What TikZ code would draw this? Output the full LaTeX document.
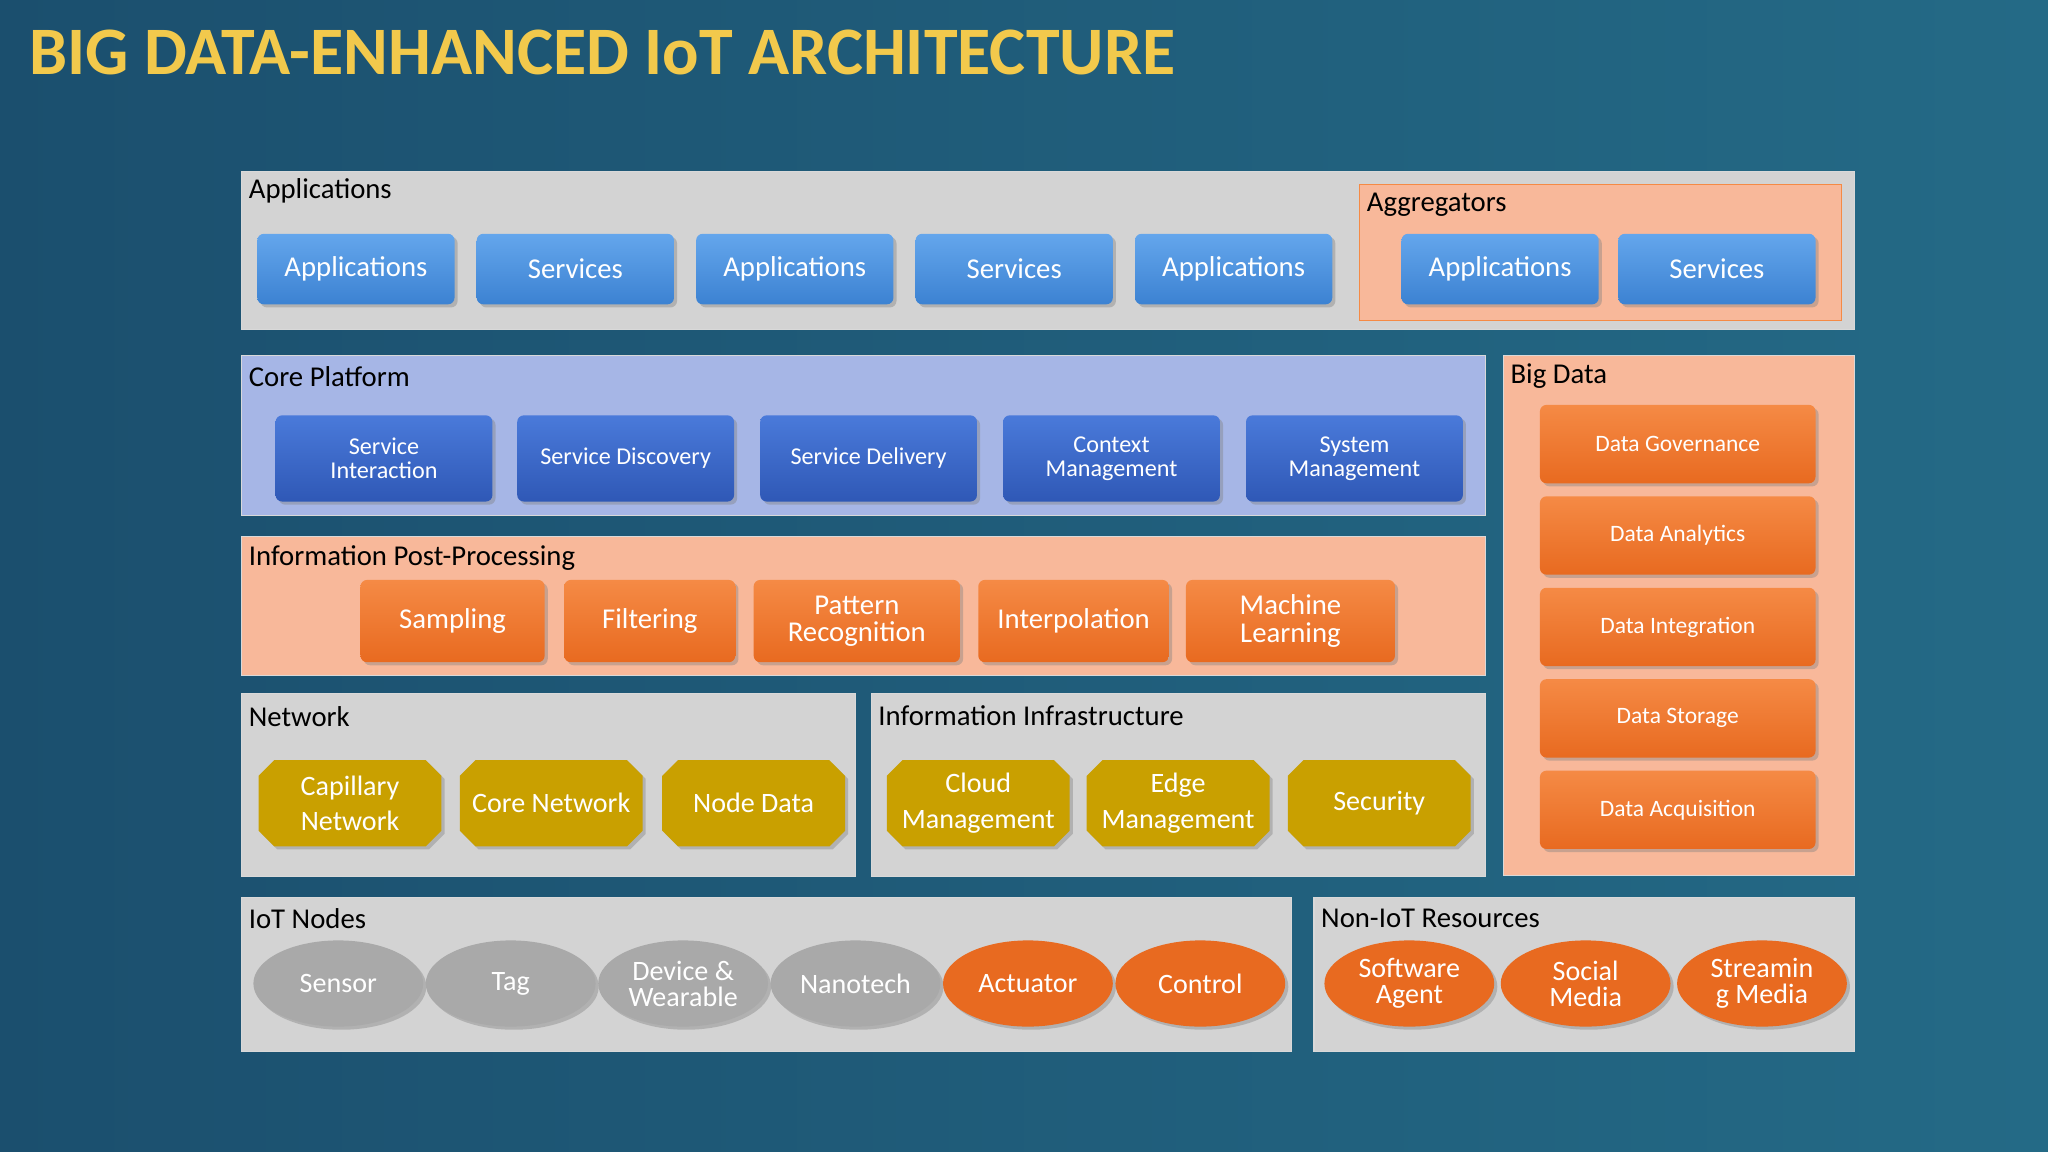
\documentclass[tikz,border=0pt]{standalone}
\usepackage{fontspec}
\setmainfont{Carlito}
\usetikzlibrary{shapes.misc,shapes.geometric,shadows}
\definecolor{bgA}{HTML}{1B4F6E}
\definecolor{bgB}{HTML}{246A86}
\definecolor{ttl}{HTML}{F2C94C}
\definecolor{pgray}{HTML}{D3D3D3}
\definecolor{ppeach}{HTML}{F8B89A}
\definecolor{pblue}{HTML}{A6B6E6}
\definecolor{btop}{HTML}{64A6EC}
\definecolor{bbot}{HTML}{3C82D2}
\definecolor{dtop}{HTML}{4A7ADA}
\definecolor{dbot}{HTML}{2F58B6}
\definecolor{otop}{HTML}{F58A45}
\definecolor{obot}{HTML}{E86A20}
\definecolor{gold}{HTML}{C9A000}
\definecolor{ngray}{HTML}{A9A9A9}
\begin{document}
\begin{tikzpicture}[x=1pt,y=-1pt,
 panel/.style={draw=white!70!gray,line width=0.8pt},
 ptitle/.style={anchor=west,font=\fontsize{22}{24}\selectfont,text=black},
 bbtn/.style={rounded corners=5pt,top color=btop,bottom color=bbot,draw=none,text=white,drop shadow={opacity=0.4},font=\fontsize{22}{24}\selectfont,align=center},
 dbtn/.style={rounded corners=5pt,top color=dtop,bottom color=dbot,draw=none,text=white,drop shadow={opacity=0.4},font=\fontsize{18.5}{18.5}\selectfont,align=center},
 obtn/.style={rounded corners=5pt,top color=otop,bottom color=obot,draw=none,text=white,drop shadow={opacity=0.4},font=\fontsize{22}{21}\selectfont,align=center},
 bdbtn/.style={rounded corners=5pt,top color=otop,bottom color=obot,draw=none,text=white,drop shadow={opacity=0.4},font=\fontsize{18}{18}\selectfont,align=center},
 gbtn/.style={chamfered rectangle,chamfered rectangle corners={north west,north east,south west,south east},chamfered rectangle sep=6pt,fill=gold,draw=none,text=white,drop shadow={opacity=0.4},font=\fontsize{21.5}{27}\selectfont,align=center,inner sep=0pt},
 nel/.style={ellipse,minimum width=130pt,minimum height=66pt,inner sep=0pt,draw=none,text=white,drop shadow={opacity=0.4},font=\fontsize{21.5}{20}\selectfont,align=center}]
\useasboundingbox (0,0) rectangle (1568,882);
\shade[left color=bgA,right color=bgB] (0,0) rectangle (1568,882);
\node[anchor=west,text=ttl,font=\fontsize{52}{54}\selectfont\bfseries] (title) at (19,40) {BIG DATA-ENHANCED IoT ARCHITECTURE};
% Applications
\draw[panel,fill=pgray] (185,131) rectangle (1420,252);
\node[ptitle] (tapp) at (187,146) {Applications};
\draw[draw=otop,fill=ppeach] (1041,141) rectangle (1410,245);
\node[ptitle] (tagg) at (1043,157) {Aggregators};
\foreach \n/\x/\t in {a1/197/Applications,a2/365/Services,a3/533/Applications,a4/701/Services,a5/869/Applications,a6/1073/Applications,a7/1239/Services}
  \node[bbtn,minimum width=151pt,minimum height=54pt] (\n) at (\x+75.5,206) {\t};
% Core platform
\draw[panel,fill=pblue] (185,272) rectangle (1137,395);
\node[ptitle] (tcore) at (187,288) {Core Platform};
\foreach \n/\x/\t in {c1/211/{Service\\Interaction},c2/396/{Service Discovery},c3/582/{Service Delivery},c4/768/{Context\\Management},c5/954/{System\\Management}}
  \node[dbtn,minimum width=166pt,minimum height=66pt] (\n) at (\x+83,351) {\t};
% Post-processing
\draw[panel,fill=ppeach] (185,411) rectangle (1137,517);
\node[ptitle] (tpost) at (187,427) {Information Post-Processing};
\node[obtn,minimum width=141pt,minimum height=63pt] (p1) at (346.5,475.5) {Sampling};
\node[obtn,minimum width=131pt,minimum height=63pt] (p2) at (497.5,475.5) {Filtering};
\node[obtn,minimum width=158pt,minimum height=63pt] (p3) at (656,475.5) {Pattern\\Recognition};
\node[obtn,minimum width=146pt,minimum height=63pt] (p4) at (822,475.5) {Interpolation};
\node[obtn,minimum width=160pt,minimum height=63pt] (p5) at (988,475.5) {Machine\\Learning};
% Big data
\draw[panel,fill=ppeach] (1151,272) rectangle (1420,670);
\node[ptitle] (tbig) at (1153,288) {Big Data};
\foreach \n/\y/\t in {b1/340/Data Governance,b2/410/Data Analytics,b3/480/Data Integration,b4/550/Data Storage,b5/620/Data Acquisition}
  \node[bdbtn,minimum width=211pt,minimum height=60pt] (\n) at (1284.5,\y) {\t};
% Network
\draw[panel,fill=pgray] (185,531) rectangle (655,671);
\node[ptitle] (tnet) at (187,549) {Network};
\draw[panel,fill=pgray] (667,531) rectangle (1137,671);
\node[ptitle] (tinf) at (669,548) {Information Infrastructure};
\foreach \n/\x/\t in {g1/198/{Capillary\\Network},g2/352/{Core Network},g3/507/{Node Data},g4/679/{Cloud\\Management},g5/832/{Edge\\Management},g6/986/{Security}}
  \node[gbtn,minimum width=140pt,minimum height=66pt] (\n) at (\x+70,615) {\t};
% IoT nodes
\draw[panel,fill=pgray] (185,687) rectangle (989,805);
\node[ptitle] (tiot) at (187,703) {IoT Nodes};
\foreach \n/\x/\c/\t in {n1/259/ngray/Sensor,n2/391/ngray/Tag,n3/523/ngray/{Device \&\\Wearable},n4/655/ngray/Nanotech,n5/787/obot/Actuator,n6/919/obot/Control}
  \node[nel,fill=\c] (\n) at (\x,753) {\t};
\draw[panel,fill=pgray] (1006,687) rectangle (1420,805);
\node[ptitle] (tnon) at (1008,703) {Non-IoT Resources};
\foreach \n/\x/\t in {r1/1079/{Software\\Agent},r2/1214/{Social\\Media},r3/1349/{Streamin\\g Media}}
  \node[nel,fill=obot] (\n) at (\x,753) {\t};
\end{tikzpicture}
\end{document}
